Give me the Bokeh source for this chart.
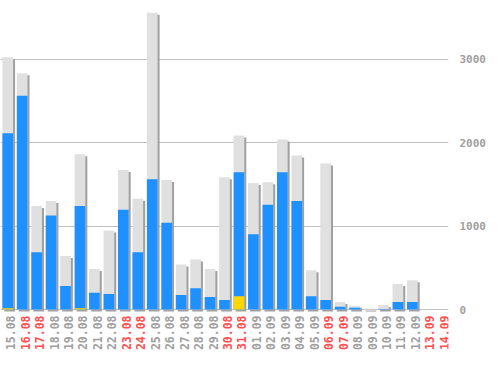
import numpy as np
from bokeh.plotting import figure
from bokeh.models import Range1d, FixedTicker, ColumnDataSource
from bokeh.embed import file_html
from bokeh.resources import INLINE
from bokeh.core.properties import value

dates = ["15.08", "16.08", "17.08", "18.08", "19.08", "20.08", "21.08", "22.08",
         "23.08", "24.08", "25.08", "26.08", "27.08", "28.08", "29.08", "30.08",
         "31.08", "01.09", "02.09", "03.09", "04.09", "05.09", "06.09", "07.09",
         "08.09", "09.09", "10.09", "11.09", "12.09", "13.09", "14.09"]
weekend = [False, True, True, False, False, False, False, False,
           True, True, False, False, False, False, False, True,
           True, False, False, False, False, False, True, True,
           False, False, False, False, False, True, True]
total = [3020, 2830, 1240, 1300, 640, 1860, 485, 945,
         1670, 1325, 3555, 1550, 540, 600, 485, 1585,
         2085, 1515, 1525, 2035, 1845, 470, 1750, 90,
         45, 12, 55, 305, 350, 0, 0]
blue = [2110, 2560, 685, 1125, 280, 1240, 200, 185,
        1195, 685, 1560, 1040, 175, 255, 150, 115,
        1645, 900, 1255, 1645, 1300, 160, 115, 32,
        20, 0, 5, 90, 90, 0, 0]
yellow = [15, 0, 0, 0, 0, 15, 0, 0,
          0, 0, 0, 0, 0, 0, 0, 0,
          160, 0, 0, 0, 0, 0, 0, 0,
          0, 0, 0, 0, 0, 0, 0]
y_ticks = [0, 1000, 2000, 3000]

FRAME_W = 448
FRAME_H = 354
PX_PER_UNIT = 0.0835
ZERO_PX = 309
y_top = ZERO_PX / PX_PER_UNIT
y_bot = -(FRAME_H - ZERO_PX) / PX_PER_UNIT
n = len(dates)
x = np.arange(n)
dx = 2.0 / (FRAME_W / n)
dy = 2.0 / PX_PER_UNIT

src = ColumnDataSource(dict(
    x=x, xs=x + dx,
    total=total, blue=blue, yellow=yellow,
    stop=np.array(total) - dy,
    sbot=np.full(n, -dy),
    dates=dates,
    lc=["#ff5050" if w else "#a0a0a0" for w in weekend],
))

p = figure(frame_width=FRAME_W, frame_height=FRAME_H, output_backend="svg",
           toolbar_location=None, x_range=Range1d(-0.5, n - 0.5),
           y_range=Range1d(y_bot, y_top), x_axis_location=None,
           y_axis_location="right", min_border=0, outline_line_color=None,
           background_fill_color="white", border_fill_color="white")

p.xgrid.visible = False
p.ygrid.ticker = FixedTicker(ticks=y_ticks)
p.ygrid.grid_line_color = "#c0c0c0"
p.ygrid.grid_line_width = 1

ax = p.yaxis[0]
ax.ticker = FixedTicker(ticks=y_ticks)
ax.axis_line_color = None
ax.major_tick_line_color = None
ax.minor_tick_line_color = None
ax.major_label_standoff = 5
ax.major_label_text_font = "DejaVu Sans Mono"
ax.major_label_text_font_style = "bold"
ax.major_label_text_font_size = "11px"
ax.major_label_text_color = "#a0a0a0"

W = 0.74
p.vbar(x="xs", top="stop", bottom="sbot", width=W, source=src,
       fill_color="#a0a0a0", line_color=None)
p.vbar(x="x", top="total", bottom=0, width=W, source=src,
       fill_color="#e0e0e0", line_color=None)
p.vbar(x="x", top="blue", bottom=0, width=W, source=src,
       fill_color="#1e90ff", line_color=None)
p.vbar(x="x", top="yellow", bottom=0, width=W, source=src,
       fill_color="#ffd700", line_color=None)

p.text(x="x", y=0, text="dates", source=src, angle=np.pi / 2,
       text_align="right", text_baseline="middle", x_offset=3, y_offset=6,
       text_color="lc", text_font=value("DejaVu Sans Mono"),
       text_font_style="bold", text_font_size="11.5px")

open("out.html", "w").write(file_html(p, INLINE))
